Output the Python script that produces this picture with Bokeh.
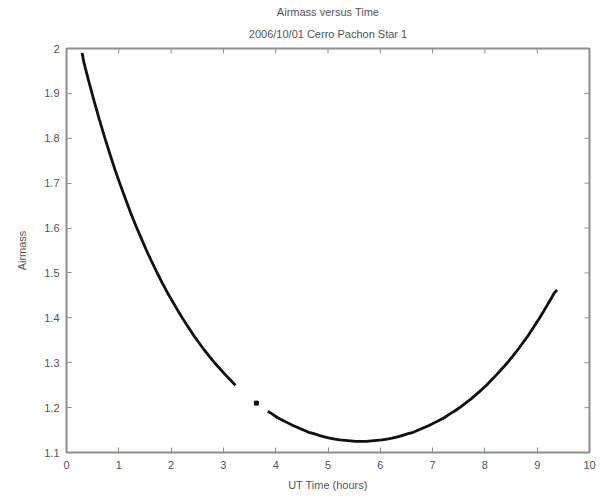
from bokeh.plotting import figure
from bokeh.models import Range1d, FixedTicker, Title, CustomJSTickFormatter
from bokeh.embed import file_html
from bokeh.resources import INLINE

# ---- data ----
# descending branch (before the gap)
x_early = [0.30, 0.33, 0.43, 0.53, 0.63, 0.73, 0.83, 0.93, 1.03, 1.13, 1.23, 1.33,
           1.43, 1.53, 1.63, 1.73, 1.83, 1.93, 2.03, 2.13, 2.23, 2.33, 2.43, 2.53,
           2.63, 2.73, 2.83, 2.93, 3.03, 3.13, 3.23]
y_early = [1.990, 1.970, 1.925, 1.882, 1.841, 1.802, 1.765, 1.729, 1.696, 1.664, 1.633, 1.604,
           1.577, 1.550, 1.525, 1.501, 1.478, 1.456, 1.436, 1.416, 1.397, 1.379, 1.361, 1.345,
           1.329, 1.314, 1.300, 1.287, 1.274, 1.262, 1.250]
# isolated observation in the gap
x_single = [3.63]
y_single = [1.210]
# later branch (through the minimum and rising)
x_late = [3.85, 3.93, 4.03, 4.13, 4.23, 4.33, 4.43, 4.53, 4.63, 4.73, 4.83, 4.93,
          5.03, 5.13, 5.23, 5.33, 5.43, 5.53, 5.63, 5.73, 5.83, 5.93, 6.03, 6.13,
          6.23, 6.33, 6.43, 6.53, 6.63, 6.73, 6.83, 6.93, 7.03, 7.13, 7.23, 7.33,
          7.43, 7.53, 7.63, 7.73, 7.83, 7.93, 8.03, 8.13, 8.23, 8.33, 8.43, 8.53,
          8.63, 8.73, 8.83, 8.93, 9.03, 9.13, 9.23, 9.33, 9.38]
y_late = [1.192, 1.186, 1.178, 1.172, 1.166, 1.160, 1.155, 1.150, 1.145, 1.142, 1.138, 1.135,
          1.132, 1.130, 1.128, 1.127, 1.126, 1.125, 1.125, 1.125, 1.126, 1.127, 1.128, 1.130,
          1.132, 1.135, 1.138, 1.142, 1.145, 1.150, 1.155, 1.160, 1.166, 1.172, 1.178, 1.186,
          1.193, 1.201, 1.210, 1.219, 1.229, 1.239, 1.250, 1.262, 1.274, 1.287, 1.300, 1.314,
          1.329, 1.345, 1.361, 1.379, 1.397, 1.416, 1.436, 1.456, 1.462]

x_ticks = [0, 1, 2, 3, 4, 5, 6, 7, 8, 9, 10]
y_ticks = [1.1, 1.2, 1.3, 1.4, 1.5, 1.6, 1.7, 1.8, 1.9, 2.0]

title_main = "Airmass versus Time"
title_sub = "2006/10/01 Cerro Pachon Star 1"
x_label = "UT Time (hours)"
y_label = "Airmass"

FONT = "Liberation Sans"
TXT = "#555555"
AX = "#8f8f8f"
X0, X1 = 0, 10
Y0, Y1 = 1.1, 2.0
FW, FH = 523, 404

p = figure(frame_width=FW, frame_height=FH,
           x_range=Range1d(X0, X1), y_range=Range1d(Y0, Y1),
           output_backend="svg", toolbar_location=None,
           min_border_left=66, min_border_right=8, min_border_top=48, min_border_bottom=4,
           background_fill_color="white", border_fill_color="white")

p.title.text = title_main
p.title.align = "center"
p.title.text_font = FONT
p.title.text_font_size = "11px"
p.title.text_font_style = "normal"
p.title.text_color = TXT
p.title.standoff = 0
p.add_layout(Title(text=title_sub, align="center", text_font=FONT, text_font_size="11px",
                   text_font_style="normal", text_color=TXT, standoff=17), "above")

p.xgrid.visible = False
p.ygrid.visible = False
p.outline_line_color = AX
p.outline_line_width = 2

fmt = CustomJSTickFormatter(code="return String(Math.round(tick*10)/10)")

for ax in (p.xaxis[0], p.yaxis[0]):
    ax.axis_line_color = None
    ax.major_tick_in = 5
    ax.major_tick_out = 0
    ax.minor_tick_line_color = None
    ax.major_tick_line_color = AX
    ax.major_tick_line_width = 1
    ax.major_label_text_font = FONT
    ax.major_label_text_font_size = "11px"
    ax.major_label_text_color = TXT
    ax.axis_label_text_font = FONT
    ax.axis_label_text_font_size = "11px"
    ax.axis_label_text_font_style = "normal"
    ax.axis_label_text_color = TXT

p.xaxis[0].ticker = FixedTicker(ticks=x_ticks)
p.yaxis[0].ticker = FixedTicker(ticks=y_ticks)
p.yaxis[0].formatter = fmt
p.xaxis[0].axis_label = x_label
p.yaxis[0].axis_label = y_label
p.xaxis[0].major_label_standoff = 8
p.yaxis[0].major_label_standoff = 7
p.xaxis[0].axis_label_standoff = 7
p.yaxis[0].axis_label_standoff = 13

# inward ticks on the top and right edges (MATLAB box style), 5 px long
dx = 5 * (X1 - X0) / FW
dy = 5 * (Y1 - Y0) / FH
p.segment(x0=x_ticks, y0=[Y1] * len(x_ticks), x1=x_ticks, y1=[Y1 - dy] * len(x_ticks),
          line_color=AX, line_width=1)
p.segment(x0=[X1] * len(y_ticks), y0=y_ticks, x1=[X1 - dx] * len(y_ticks), y1=y_ticks,
          line_color=AX, line_width=1)

p.line(x_early, y_early, line_color="#111111", line_width=2.8)
p.line(x_late, y_late, line_color="#111111", line_width=2.8)
p.scatter(x_single, y_single, size=4, marker="square", fill_color="#111111", line_color="#111111")

open("out.html", "w").write(file_html(p, INLINE))
